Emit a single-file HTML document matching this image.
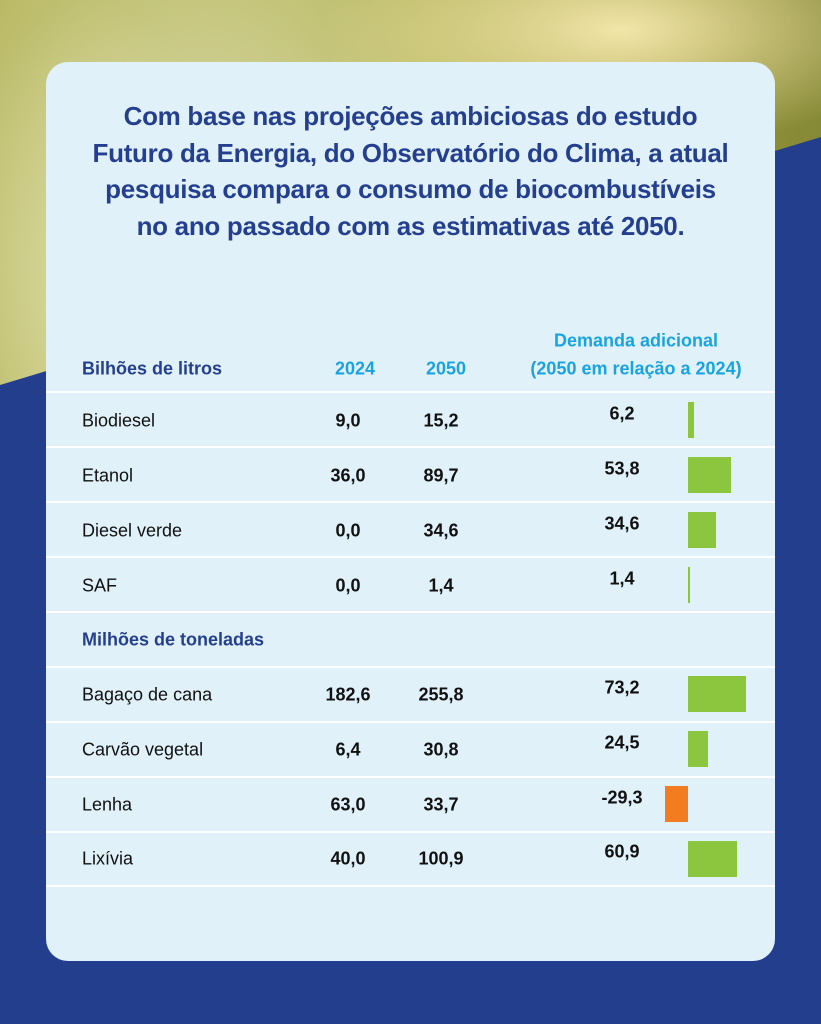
<!DOCTYPE html>
<html><head><meta charset="utf-8"><style>
html,body{margin:0;padding:0}
body{width:821px;height:1024px;position:relative;overflow:hidden;font-family:"Liberation Sans",sans-serif;background:#243e8e}
.bg{position:absolute;left:0;top:0;width:821px;height:1024px;background:radial-gradient(ellipse at 25% 20%,#d8d9a4 0%,#b9b964 30%,#8f8f38 60%,#6f7a30 100%);}
.bg2{position:absolute;left:0;top:0;width:821px;height:1024px;background:radial-gradient(ellipse 300px 120px at 620px 30px,#f2e5a8,rgba(240,220,150,0) 100%),radial-gradient(ellipse 150px 300px at 90px 300px,rgba(230,230,180,.6),rgba(0,0,0,0));}
.blue{position:absolute;left:0;top:0;width:821px;height:1024px;background:#243e8e;clip-path:polygon(0 385px,821px 137px,821px 1024px,0 1024px)}
.card{position:absolute;left:46px;top:62px;width:729px;height:899px;background:#e0f1f9;border-radius:22px}
.title{position:absolute;left:0;top:98px;width:821px;text-align:center;color:#253f8f;font-weight:bold;font-size:26px;line-height:36.5px}
.title span{display:inline-block;transform:scaleX(1.0);white-space:nowrap;letter-spacing:-0.3px}
.t{position:absolute;white-space:nowrap;font-size:18px;color:#111;transform:translateY(-50%)}
.n{font-weight:bold;width:100px;text-align:center;margin-left:-50px}
.h{color:#253f8f;font-weight:bold;font-size:18px}
.c{color:#1aa3e0;font-weight:bold;font-size:18px}
.line{position:absolute;left:46px;width:729px;height:2px;background:#fff}
.bar{position:absolute;height:36px;background:#8cc63f}
</style></head><body>
<div class="bg"></div><div class="bg2"></div><div class="blue"></div>
<div class="card"></div>
<div class="title"><span>Com base nas projeções ambiciosas do estudo</span><br><span>Futuro da Energia, do Observatório do Clima, a atual</span><br><span>pesquisa compara o consumo de biocombustíveis</span><br><span>no ano passado com as estimativas até 2050.</span></div>

<div class="t h" style="left:82px;top:369px">Bilhões de litros</div>
<div class="t c n" style="left:355px;top:369px">2024</div>
<div class="t c n" style="left:446px;top:369px">2050</div>
<div class="t c" style="left:519px;top:341px;width:234px;text-align:center">Demanda adicional</div>
<div class="t c" style="left:519px;top:369px;width:234px;text-align:center">(2050 em relação a 2024)</div>

<div class="line" style="top:391px"></div>
<div class="line" style="top:446px"></div>
<div class="line" style="top:501px"></div>
<div class="line" style="top:556px"></div>
<div class="line" style="top:611px"></div>
<div class="line" style="top:666px"></div>
<div class="line" style="top:721px"></div>
<div class="line" style="top:776px"></div>
<div class="line" style="top:831px"></div>
<div class="line" style="top:885px"></div>

<div class="t" style="left:82px;top:421px">Biodiesel</div>
<div class="t n" style="left:348px;top:421px">9,0</div>
<div class="t n" style="left:441px;top:421px">15,2</div>
<div class="t n" style="left:622px;top:414px">6,2</div>
<div class="bar" style="left:688px;top:402px;width:6px"></div>

<div class="t" style="left:82px;top:476px">Etanol</div>
<div class="t n" style="left:348px;top:476px">36,0</div>
<div class="t n" style="left:441px;top:476px">89,7</div>
<div class="t n" style="left:622px;top:469px">53,8</div>
<div class="bar" style="left:688px;top:457px;width:43px"></div>

<div class="t" style="left:82px;top:531px">Diesel verde</div>
<div class="t n" style="left:348px;top:531px">0,0</div>
<div class="t n" style="left:441px;top:531px">34,6</div>
<div class="t n" style="left:622px;top:524px">34,6</div>
<div class="bar" style="left:688px;top:512px;width:28px"></div>

<div class="t" style="left:82px;top:586px">SAF</div>
<div class="t n" style="left:348px;top:586px">0,0</div>
<div class="t n" style="left:441px;top:586px">1,4</div>
<div class="t n" style="left:622px;top:579px">1,4</div>
<div class="bar" style="left:688px;top:567px;width:1.5px"></div>

<div class="t h" style="left:82px;top:640px">Milhões de toneladas</div>

<div class="t" style="left:82px;top:695px">Bagaço de cana</div>
<div class="t n" style="left:348px;top:695px">182,6</div>
<div class="t n" style="left:441px;top:695px">255,8</div>
<div class="t n" style="left:622px;top:688px">73,2</div>
<div class="bar" style="left:688px;top:676px;width:58px"></div>

<div class="t" style="left:82px;top:750px">Carvão vegetal</div>
<div class="t n" style="left:348px;top:750px">6,4</div>
<div class="t n" style="left:441px;top:750px">30,8</div>
<div class="t n" style="left:622px;top:743px">24,5</div>
<div class="bar" style="left:688px;top:731px;width:20px"></div>

<div class="t" style="left:82px;top:805px">Lenha</div>
<div class="t n" style="left:348px;top:805px">63,0</div>
<div class="t n" style="left:441px;top:805px">33,7</div>
<div class="t n" style="left:622px;top:798px">-29,3</div>
<div class="bar" style="left:665px;top:786px;width:23px;background:#f47c20"></div>

<div class="t" style="left:82px;top:859px">Lixívia</div>
<div class="t n" style="left:348px;top:859px">40,0</div>
<div class="t n" style="left:441px;top:859px">100,9</div>
<div class="t n" style="left:622px;top:852px">60,9</div>
<div class="bar" style="left:688px;top:841px;width:49px"></div>
</body></html>
